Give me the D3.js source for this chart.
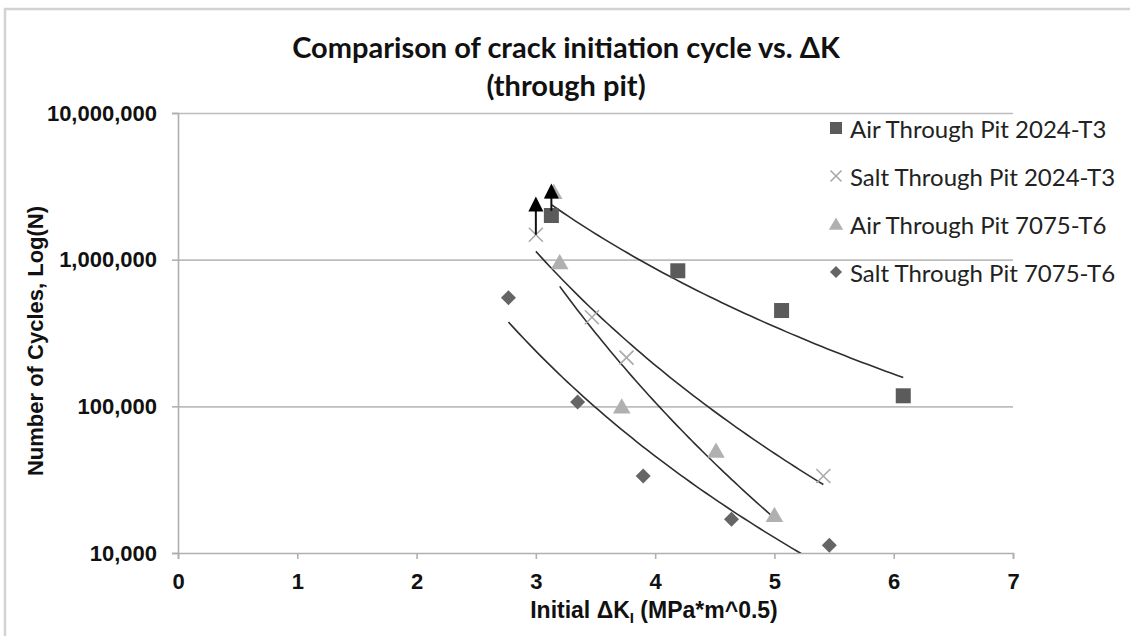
<!DOCTYPE html>
<html>
<head>
<meta charset="utf-8">
<script src="https://cdn.jsdelivr.net/npm/d3@7"></script>
<style>
  body { margin: 0; background: #fff; }
</style>
</head>
<body>
<div id="chart"></div>
<script>
// values: initial delta K (MPa*m^0.5) and cycles N
const air2024K = [3.13, 4.19, 5.06, 6.08];
const air2024N = [2000000, 840000, 450000, 118000];
const salt2024K = [3.0, 3.47, 3.76, 5.41];
const salt2024N = [1480000, 405000, 215000, 33500];
const air7075K = [3.2, 3.72, 4.51, 5.0];
const air7075N = [965000, 100000, 50000, 18200];
const salt7075K = [2.77, 3.35, 3.9, 4.64, 5.46];
const salt7075N = [550000, 107000, 33500, 17000, 11300];

// run-out point of Air 7075-T6, sits under an arrow, not in the trendline
const air7075RunK = [3.15];
const air7075RunN = [2900000];

// arrows pointing up (run-outs)
const arrowK = [3.0, 3.13];
const arrowFrom = [1480000, 2150000];
const arrowTo = [2700000, 3300000];

const xTicks = [0, 1, 2, 3, 4, 5, 6, 7];
const yTicks = [10000, 100000, 1000000, 10000000];
const seriesNames = ["Air Through Pit 2024-T3", "Salt Through Pit 2024-T3",
                     "Air Through Pit 7075-T6", "Salt Through Pit 7075-T6"];

const W = 1130, H = 636;
const plot = {left: 178, right: 1013, top: 113, bottom: 553};

const x = d3.scaleLinear().domain([0, 7]).range([plot.left, plot.right]);
const y = d3.scaleLog().domain([10000, 10000000]).range([plot.bottom, plot.top]);

const svg = d3.select("#chart").append("svg")
    .attr("width", W)
    .attr("height", H)
    .style("display", "block");

svg.append("rect").attr("width", W).attr("height", H).attr("fill", "#fff");

// outer chart border (runs off the right and bottom edge)
svg.append("rect")
    .attr("x", 5).attr("y", 9)
    .attr("width", 1200).attr("height", 700)
    .attr("fill", "none")
    .attr("stroke", "#d2d2d2")
    .attr("stroke-width", 2.5);

const axisFont = "'Liberation Sans', Arial, sans-serif";
const textFont = "Lato, 'Open Sans', sans-serif";

// gridlines
svg.append("g")
    .attr("transform", "translate(" + plot.left + ",0)")
    .call(d3.axisLeft(y).tickValues(yTicks.slice(1)).tickSize(-(plot.right - plot.left)).tickFormat(""))
    .call(g => g.select(".domain").remove())
    .call(g => g.selectAll("line").attr("stroke", "#bdbdbd").attr("stroke-width", 1.6));

// y axis
const yAxis = svg.append("g")
    .attr("transform", "translate(" + plot.left + ",0)")
    .call(d3.axisLeft(y).tickValues(yTicks).tickFormat(d3.format(",")).tickSize(6).tickPadding(15));
yAxis.select(".domain").attr("stroke", "#b0b0b0").attr("stroke-width", 1.6);
yAxis.selectAll("line").attr("stroke", "#b0b0b0").attr("stroke-width", 1.6);
yAxis.selectAll("text")
    .attr("font-family", axisFont).attr("font-weight", "bold")
    .attr("font-size", 22).attr("fill", "#111");

// x axis
const xAxis = svg.append("g")
    .attr("transform", "translate(0," + plot.bottom + ")")
    .call(d3.axisBottom(x).tickValues(xTicks).tickFormat(d3.format("d")).tickSize(6).tickPadding(14));
xAxis.select(".domain").attr("stroke", "#b0b0b0").attr("stroke-width", 1.6);
xAxis.selectAll("line").attr("stroke", "#b0b0b0").attr("stroke-width", 1.6);
xAxis.selectAll("text")
    .attr("font-family", axisFont).attr("font-weight", "bold")
    .attr("font-size", 22).attr("fill", "#111");

// power trendline, the way Excel fits it: log N = a + b log K
function powerFit(K, N) {
    const lx = K.map(Math.log10), ly = N.map(Math.log10);
    const mx = d3.mean(lx), my = d3.mean(ly);
    const b = d3.sum(lx, (v, i) => (v - mx) * (ly[i] - my)) / d3.sum(lx, v => (v - mx) * (v - mx));
    const a = my - b * mx;
    return k => Math.pow(10, a + b * Math.log10(k));
}

svg.append("clipPath").attr("id", "plotClip")
    .append("rect")
    .attr("x", plot.left).attr("y", plot.top)
    .attr("width", plot.right - plot.left).attr("height", plot.bottom - plot.top);

const trendG = svg.append("g").attr("clip-path", "url(#plotClip)");
const trendLine = d3.line().x(d => x(d[0])).y(d => y(d[1]));

[[air2024K, air2024N], [salt2024K, salt2024N], [air7075K, air7075N], [salt7075K, salt7075N]]
    .forEach(([K, N]) => {
        const f = powerFit(K, N);
        const [k0, k1] = d3.extent(K);
        const pts = d3.range(0, 61).map(i => {
            const k = k0 + (k1 - k0) * i / 60;
            return [k, f(k)];
        });
        trendG.append("path")
            .datum(pts)
            .attr("d", trendLine)
            .attr("fill", "none")
            .attr("stroke", "#2e2e2e")
            .attr("stroke-width", 1.6);
    });

// marker shapes
const markers = {
    square: (g, s) => g.append("rect").attr("x", -s / 2).attr("y", -s / 2).attr("width", s).attr("height", s),
    cross: (g, s) => g.append("path").attr("d", `M${-s/2},${-s/2}L${s/2},${s/2}M${-s/2},${s/2}L${s/2},${-s/2}`),
    triangle: (g, s) => g.append("path").attr("d", `M0,${-s*0.5}L${s*0.55},${s*0.45}L${-s*0.55},${s*0.45}Z`),
    diamond: (g, s) => g.append("path").attr("d", `M0,${-s/2}L${s/2},0L0,${s/2}L${-s/2},0Z`)
};

const styles = [
    {shape: "square", fill: "#5b5b5b", stroke: "none", size: 15},
    {shape: "cross", fill: "none", stroke: "#a9a9a9", size: 14},
    {shape: "triangle", fill: "#b0b0b0", stroke: "none", size: 16},
    {shape: "diamond", fill: "#656565", stroke: "none", size: 15}
];

function drawPoints(K, N, st) {
    K.forEach((k, i) => {
        const g = svg.append("g").attr("transform", "translate(" + x(k) + "," + y(N[i]) + ")");
        markers[st.shape](g, st.size)
            .attr("fill", st.fill)
            .attr("stroke", st.stroke)
            .attr("stroke-width", 1.6);
    });
}

drawPoints(air7075RunK, air7075RunN, styles[2]);
drawPoints(air2024K, air2024N, styles[0]);
drawPoints(salt2024K, salt2024N, styles[1]);
drawPoints(air7075K, air7075N, styles[2]);
drawPoints(salt7075K, salt7075N, styles[3]);

// arrows
arrowK.forEach((k, i) => {
    const ax = x(k), tip = y(arrowTo[i]), base = y(arrowFrom[i]);
    svg.append("line")
        .attr("x1", ax).attr("x2", ax)
        .attr("y1", base).attr("y2", tip + 12)
        .attr("stroke", "#111").attr("stroke-width", 2);
    svg.append("path")
        .attr("d", `M${ax},${tip}L${ax + 7.5},${tip + 15}L${ax - 7.5},${tip + 15}Z`)
        .attr("fill", "#000");
});

// legend
const legend = svg.append("g").attr("transform", "translate(836,128)");
seriesNames.forEach((name, i) => {
    const row = legend.append("g").attr("transform", "translate(0," + i * 48 + ")");
    const st = styles[i];
    markers[st.shape](row, st.size - 3)
        .attr("fill", st.fill)
        .attr("stroke", st.stroke)
        .attr("stroke-width", 1.6);
    row.append("text")
        .attr("x", 14).attr("y", 0)
        .attr("dominant-baseline", "central")
        .attr("font-family", textFont)
        .attr("font-size", 24)
        .attr("fill", "#222")
        .text(name);
});

// title
const title = svg.append("text")
    .attr("x", 566)
    .attr("text-anchor", "middle")
    .attr("font-family", textFont)
    .attr("font-weight", "bold")
    .attr("font-size", 29)
    .attr("fill", "#111");
title.append("tspan").attr("x", 566).attr("y", 58).text("Comparison of crack initiation cycle vs. ΔK");
title.append("tspan").attr("x", 566).attr("y", 96).text("(through pit)");

// axis titles
svg.append("text")
    .attr("transform", "translate(35,341) rotate(-90)")
    .attr("text-anchor", "middle")
    .attr("dominant-baseline", "central")
    .attr("font-family", axisFont)
    .attr("font-weight", "bold")
    .attr("font-size", 22)
    .attr("fill", "#111")
    .text("Number of Cycles, Log(N)");

const xTitle = svg.append("text")
    .attr("x", 654).attr("y", 618)
    .attr("text-anchor", "middle")
    .attr("font-family", axisFont)
    .attr("font-weight", "bold")
    .attr("font-size", 23)
    .attr("fill", "#111");
xTitle.append("tspan").text("Initial ΔK");
xTitle.append("tspan").attr("font-size", 15).attr("dy", 5).text("I");
xTitle.append("tspan").attr("dy", -5).text(" (MPa*m^0.5)");
</script>
</body>
</html>
